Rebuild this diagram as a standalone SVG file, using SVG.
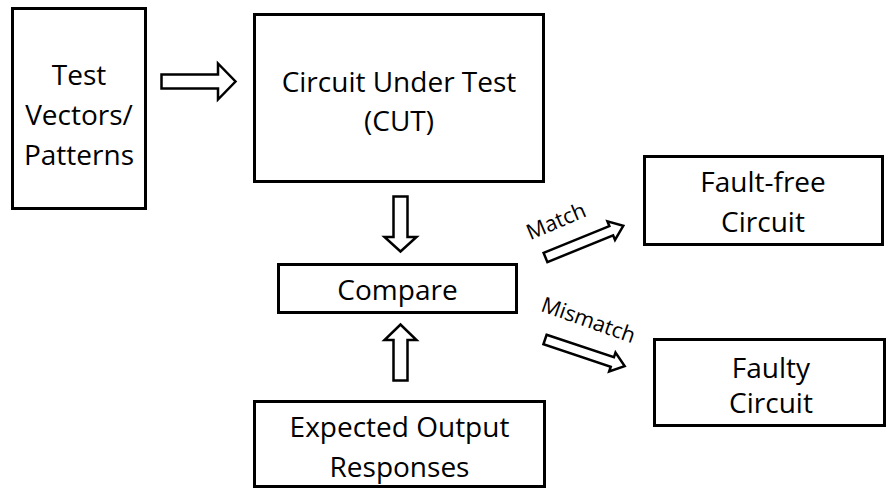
<svg xmlns="http://www.w3.org/2000/svg" width="887" height="491" viewBox="0 0 887 491">
  <style>
    .box { fill: #ffffff; stroke: #000000; stroke-width: 3; }
    .arrow { fill: #ffffff; stroke: #000000; stroke-width: 2.5; stroke-linejoin: miter; }
    .label { font-family: "Open Sans", "Liberation Sans", sans-serif; font-size: 28px; fill: #000000; text-anchor: middle; }
    .edge-label { font-family: "Open Sans", "Liberation Sans", sans-serif; font-size: 21.5px; fill: #000000; text-anchor: middle; }
  </style>
  <defs>
    <!-- slanted block arrow, tail at origin, pointing along +x -->
    <polygon id="slant-arrow" points="0,-5 71,-5 71,-10 84,0 71,10 71,5 0,5"/>
  </defs>

  <rect width="887" height="491" fill="#ffffff"/>

  <g id="test-vectors">
    <rect class="box" x="12.5" y="8.5" width="133" height="200"/>
    <text class="label" x="79" y="85">Test</text>
    <text class="label" x="79" y="125">Vectors/</text>
    <text class="label" x="79" y="165">Patterns</text>
  </g>

  <g id="cut">
    <rect class="box" x="254.5" y="14.5" width="289" height="167"/>
    <text class="label" x="399" y="92">Circuit Under Test</text>
    <text class="label" x="399" y="131">(CUT)</text>
  </g>

  <g id="compare">
    <rect class="box" x="278.5" y="264.5" width="238" height="48"/>
    <text class="label" x="397.5" y="300">Compare</text>
  </g>

  <g id="expected">
    <rect class="box" x="254.5" y="401.5" width="290" height="85"/>
    <text class="label" x="399.5" y="437">Expected Output</text>
    <text class="label" x="399.5" y="477">Responses</text>
  </g>

  <g id="fault-free">
    <rect class="box" x="644.5" y="156.5" width="238" height="88"/>
    <text class="label" x="763" y="192">Fault-free</text>
    <text class="label" x="763" y="232">Circuit</text>
  </g>

  <g id="faulty">
    <rect class="box" x="654.5" y="339.5" width="230" height="86"/>
    <text class="label" x="771" y="378">Faulty</text>
    <text class="label" x="771" y="413">Circuit</text>
  </g>

  <g id="connectors">
    <!-- patterns into CUT -->
    <polygon class="arrow" points="161.5,74.5 218,74.5 218,63.5 235.5,81.5 218,99.5 218,88.5 161.5,88.5"/>
    <!-- CUT output down to compare -->
    <polygon class="arrow" points="393.5,196.5 407.5,196.5 407.5,237 416.5,237 400.5,251.5 384.5,237 393.5,237"/>
    <!-- expected responses up to compare -->
    <polygon class="arrow" points="393.5,380.5 407.5,380.5 407.5,340 416.5,340 400.5,324.5 384.5,340 393.5,340"/>
    <!-- match -->
    <use href="#slant-arrow" class="arrow" transform="translate(545.5,257.5) rotate(-22.2)"/>
    <text class="edge-label" transform="translate(559,228) rotate(-23)">Match</text>
    <!-- mismatch -->
    <use href="#slant-arrow" class="arrow" transform="translate(545,339.5) rotate(18.5)"/>
    <text class="edge-label" transform="translate(586,327) rotate(19.5)">Mismatch</text>
  </g>
</svg>
